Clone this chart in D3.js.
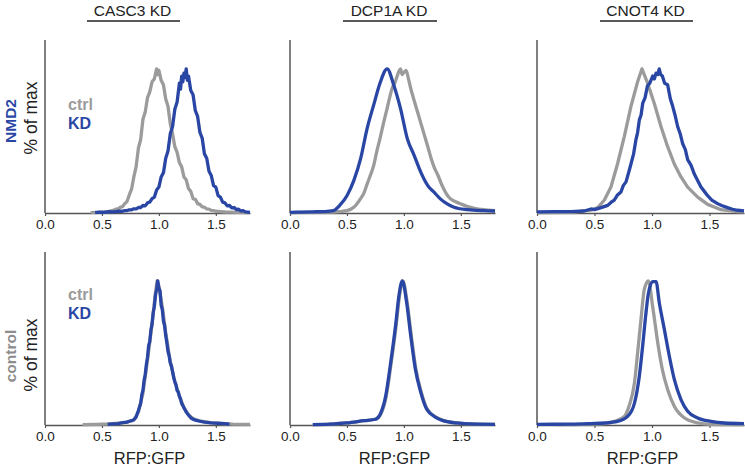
<!DOCTYPE html>
<html>
<head>
<meta charset="utf-8">
<script src="https://cdn.jsdelivr.net/npm/d3@7"></script>
<style>
  body { margin: 0; background: #fff; }
  svg { display: block; font-family: "Liberation Sans", Arial, sans-serif; }
</style>
</head>
<body>
<svg id="chart" width="745" height="467"></svg>
<script>
// knockdown columns and reporter rows
const columns = ["CASC3 KD", "DCP1A KD", "CNOT4 KD"];
const rows = ["NMD2", "control"];
const xTicks = [0.0, 0.5, 1.0, 1.5];
const legendLabels = ["ctrl", "KD"];

// histograms as [RFP:GFP, % of max]
const casc3Nmd2Ctrl = [[0.40,0.3],[0.44,0.4],[0.48,0.5],[0.52,0.8],[0.56,1.2],[0.60,1.8],[0.62,2.6],[0.64,2.8],[0.66,3.9],[0.68,4.4],[0.70,6.5],[0.72,8],[0.74,12.5],[0.76,16.5],[0.78,25],[0.80,32],[0.82,45],[0.84,51],[0.86,65],[0.88,70],[0.90,80],[0.92,84],[0.94,91],[0.96,93],[0.98,100],[0.99,96],[1.00,99],[1.02,92],[1.04,89],[1.06,79],[1.08,74],[1.10,62],[1.12,55],[1.14,46],[1.16,42],[1.18,35],[1.20,32],[1.22,25],[1.24,23],[1.26,17],[1.28,15],[1.30,10],[1.32,9.5],[1.34,6.5],[1.36,6],[1.38,4.2],[1.40,4],[1.42,2.8],[1.44,2.7],[1.46,1.8],[1.48,1.7],[1.50,1.2],[1.54,1],[1.58,0.7],[1.62,0.6],[1.70,0.4],[1.80,0.3]];
const casc3Nmd2Kd = [[0.44,0.3],[0.48,0.6],[0.52,0.5],[0.56,0.9],[0.60,0.8],[0.64,1.2],[0.68,1.2],[0.70,1.6],[0.72,1.7],[0.74,2.2],[0.76,2.2],[0.78,2.9],[0.80,2.8],[0.82,3.8],[0.84,3.8],[0.86,5.2],[0.88,5],[0.90,7],[0.92,7.6],[0.94,10],[0.96,11],[0.98,16],[1.00,18],[1.02,25],[1.04,28],[1.06,38],[1.08,43],[1.10,55],[1.12,60],[1.14,72],[1.16,77],[1.18,90],[1.19,86],[1.20,95],[1.21,91],[1.22,97],[1.23,94],[1.24,100],[1.25,92],[1.26,95],[1.28,85],[1.30,82],[1.32,71],[1.34,67],[1.36,56],[1.38,52],[1.40,41],[1.42,38],[1.44,29],[1.46,26],[1.48,19],[1.50,18],[1.52,12],[1.54,11],[1.56,7.5],[1.58,7],[1.60,5],[1.62,5.2],[1.64,3.6],[1.66,3.8],[1.68,2.4],[1.70,2.6],[1.72,1.4],[1.74,1.6],[1.76,0.8],[1.80,0.5]];
const dcp1aNmd2Ctrl = [[0.00,0.3],[0.20,0.5],[0.38,0.6],[0.44,1],[0.50,1.6],[0.56,4],[0.62,10],[0.65,14],[0.677,20],[0.70,25],[0.735,33],[0.76,42],[0.79,51.6],[0.82,62],[0.853,72.6],[0.875,80],[0.897,86.5],[0.92,90],[0.94,94.7],[0.97,100],[0.985,96],[0.995,97],[1.02,99],[1.04,93],[1.06,86.5],[1.09,78],[1.12,70],[1.15,62],[1.18,54],[1.21,46],[1.24,37.7],[1.27,31],[1.30,26],[1.33,20],[1.35,16.7],[1.38,12.5],[1.41,9.8],[1.45,8],[1.50,6.3],[1.56,4.5],[1.62,3.3],[1.70,2.3],[1.80,1.6]];
const dcp1aNmd2Kd = [[0.00,0.5],[0.10,0.6],[0.20,0.8],[0.30,1],[0.38,1.6],[0.44,5.6],[0.50,12],[0.56,22.5],[0.62,37.7],[0.677,58.6],[0.735,75],[0.79,90],[0.853,100],[0.91,89],[0.97,72.6],[1.03,51.6],[1.09,40],[1.15,28],[1.21,19],[1.265,14.4],[1.32,9.8],[1.38,6.3],[1.44,4],[1.56,2.3],[1.70,1.6],[1.80,1.4]];
const cnot4Nmd2Ctrl = [[0.00,0.3],[0.30,0.5],[0.47,2],[0.528,3.7],[0.586,9],[0.643,18],[0.70,34],[0.759,53],[0.817,74],[0.875,91],[0.913,100],[0.962,90],[1.02,76],[1.078,60],[1.136,46],[1.194,34],[1.252,25],[1.31,18],[1.397,11],[1.484,6],[1.60,2.3],[1.745,1],[1.80,0.8]];
const cnot4Nmd2Kd = [[0.00,0.8],[0.15,0.9],[0.296,1],[0.41,1.4],[0.47,2.8],[0.50,2.4],[0.557,3.7],[0.615,5.3],[0.645,7.5],[0.672,9],[0.70,12.5],[0.73,14.6],[0.75,19],[0.774,21.6],[0.80,29],[0.817,34],[0.84,41],[0.86,50.7],[0.875,56],[0.89,64.6],[0.905,68],[0.919,76],[0.94,80],[0.96,88],[0.98,90],[1.006,95],[1.02,93],[1.035,97],[1.05,96],[1.063,100],[1.075,96],[1.09,95],[1.11,90],[1.136,89],[1.16,79],[1.18,74],[1.20,68],[1.223,60],[1.245,55],[1.267,48],[1.29,44],[1.31,37],[1.34,33],[1.368,27],[1.40,22],[1.426,18],[1.455,15],[1.484,12],[1.52,9],[1.57,6.5],[1.61,5],[1.657,3.7],[1.70,2.6],[1.745,1.9],[1.80,1.5]];

const casc3CtrlCtrl = [[0.33,0.3],[0.45,0.5],[0.55,0.7],[0.65,1.2],[0.72,2],[0.78,3.5],[0.82,9],[0.86,22],[0.90,45],[0.94,70],[0.97,92],[0.985,100],[1.00,96],[1.03,82],[1.06,64],[1.10,44],[1.14,30],[1.18,20],[1.22,12],[1.26,7],[1.30,4.5],[1.36,2.8],[1.45,1.6],[1.55,1],[1.65,0.6],[1.80,0.4]];
const casc3CtrlKd = [[0.55,0.4],[0.60,0.8],[0.64,1],[0.68,1.6],[0.72,2],[0.74,2.6],[0.76,3],[0.78,3.6],[0.80,5.5],[0.82,10],[0.84,15],[0.85,21],[0.86,24],[0.87,31],[0.88,35],[0.89,42],[0.90,47],[0.91,55],[0.92,58],[0.93,66],[0.94,70],[0.95,78],[0.96,82],[0.97,90],[0.98,94],[0.99,100],[1.00,95],[1.01,93],[1.02,83],[1.03,80],[1.04,72],[1.05,69],[1.06,62],[1.07,57],[1.08,51],[1.09,48],[1.10,43],[1.11,41],[1.12,37],[1.13,33],[1.14,30],[1.15,28],[1.16,24],[1.17,23],[1.18,20],[1.19,18],[1.20,15],[1.22,12],[1.24,9],[1.26,7],[1.28,5],[1.30,4],[1.32,3.4],[1.36,2.6],[1.40,2],[1.46,1.5],[1.52,1.2],[1.58,0.9],[1.62,0.6]];
const dcp1aCtrlCtrl = [[0.20,0.3],[0.35,0.6],[0.50,1.4],[0.65,3],[0.75,4],[0.80,8],[0.845,20],[0.885,41],[0.932,69],[0.962,90],[0.991,100],[1.029,85],[1.065,62],[1.105,39],[1.152,23],[1.205,11],[1.285,5.3],[1.385,2.3],[1.535,1],[1.80,0.5]];
const dcp1aCtrlKd = [[0.20,0.3],[0.35,0.6],[0.50,1.4],[0.65,3],[0.75,4],[0.795,8],[0.84,20],[0.88,41],[0.927,69],[0.957,90],[0.986,100],[1.024,85],[1.06,62],[1.10,39],[1.147,23],[1.20,11],[1.28,5.3],[1.38,2.3],[1.53,1],[1.80,0.5]];
const cnot4CtrlCtrl = [[0.17,0.3],[0.40,0.5],[0.586,1],[0.67,2.5],[0.76,6],[0.80,13],[0.847,29],[0.875,50],[0.904,73],[0.933,94],[0.968,100],[1.006,82],[1.05,57],[1.09,38.5],[1.136,24.6],[1.194,13],[1.28,5],[1.397,1.5],[1.51,0.5],[1.80,0.3]];
const cnot4CtrlKd = [[0.00,0.5],[0.296,0.6],[0.47,1],[0.586,1.4],[0.70,2.5],[0.788,6],[0.847,15],[0.89,34],[0.919,55],[0.948,78],[0.968,91],[1.006,99.5],[1.035,99.5],[1.063,85],[1.107,66.5],[1.15,48],[1.194,31.6],[1.252,17.6],[1.31,9.5],[1.397,4.9],[1.513,2.5],[1.629,1.4],[1.80,1]];

const series = [
  [[casc3Nmd2Ctrl, casc3Nmd2Kd], [dcp1aNmd2Ctrl, dcp1aNmd2Kd], [cnot4Nmd2Ctrl, cnot4Nmd2Kd]],
  [[casc3CtrlCtrl, casc3CtrlKd], [dcp1aCtrlCtrl, dcp1aCtrlKd], [cnot4CtrlCtrl, cnot4CtrlKd]]
];
// smooth curves for the cleaner histograms
const smooth = [[false, true, false], [false, true, true]];

const gray = "#9b9b9b";
const blue = "#2a46a4";
const axisColor = "#555";

// panel geometry
const colX = [[45, 250], [290, 495], [537, 744]];
const rowY = [[40, 213], [252, 425]];
const titleX = [[87, 180], [343, 437], [600, 693]];

const svg = d3.select("#chart");

columns.forEach((t, i) => {
  const [a, b] = titleX[i];
  svg.append("text")
    .attr("x", (a + b) / 2 - 1).attr("y", 16)
    .attr("text-anchor", "middle")
    .attr("font-size", 15.5)
    .attr("fill", "#222")
    .text(t);
  svg.append("line")
    .attr("x1", a).attr("x2", b).attr("y1", 21).attr("y2", 21)
    .attr("stroke", "#222").attr("stroke-width", 1.6);
});

rows.forEach((r, ri) => {
  const [top, base] = rowY[ri];
  const y = d3.scaleLinear().domain([0, 120]).range([base, top]);
  const mid = ri === 0 ? 121 : 356;

  svg.append("text")
    .attr("transform", `translate(16,${mid}) rotate(-90)`)
    .attr("text-anchor", "middle")
    .attr("font-size", 15.5).attr("font-weight", "bold")
    .attr("fill", ri === 0 ? blue : "#8c8c8c")
    .text(r);
  svg.append("text")
    .attr("transform", `translate(37,${ri === 0 ? 118 : 355}) rotate(-90)`)
    .attr("text-anchor", "middle")
    .attr("font-size", 17.5)
    .attr("fill", "#222")
    .text("% of max");

  // legend
  legendLabels.forEach((l, li) => {
    svg.append("text")
      .attr("x", 68)
      .attr("y", (ri === 0 ? 110 : 300) + li * 18.5)
      .attr("font-size", 16).attr("font-weight", "bold")
      .attr("fill", li === 0 ? gray : blue)
      .text(l);
  });

  columns.forEach((c, ci) => {
    const x = d3.scaleLinear().domain([0, 1.8]).range(colX[ci]);
    const g = svg.append("g");

    const line = d3.line()
      .x(d => x(d[0]))
      .y(d => y(d[1]))
      .curve(smooth[ri][ci] ? d3.curveMonotoneX : d3.curveLinear);

    // axes
    g.append("g")
      .attr("transform", `translate(0,${base})`)
      .call(d3.axisBottom(x).tickValues(xTicks).tickFormat(d3.format(".1f")).tickSize(3).tickSizeOuter(0))
      .call(a => a.select(".domain").attr("stroke", axisColor).attr("stroke-width", 1.5))
      .call(a => a.selectAll(".tick line").attr("stroke", axisColor).attr("stroke-width", 1.2))
      .call(a => a.selectAll(".tick text").attr("font-size", 13.5).attr("font-family", "Liberation Sans, Arial, sans-serif").attr("fill", "#222").attr("y", 6).attr("dy", "0.71em"));
    g.append("line")
      .attr("x1", colX[ci][0]).attr("x2", colX[ci][0])
      .attr("y1", top).attr("y2", base)
      .attr("stroke", axisColor).attr("stroke-width", 1.5);

    const [ctrl, kd] = series[ri][ci];
    g.append("path").datum(ctrl)
      .attr("d", line).attr("fill", "none")
      .attr("stroke", gray).attr("stroke-width", 3.3)
      .attr("stroke-linejoin", "round");
    g.append("path").datum(kd)
      .attr("d", line).attr("fill", "none")
      .attr("stroke", blue).attr("stroke-width", 3.3)
      .attr("stroke-linejoin", "round");

    if (ri === 1) {
      svg.append("text")
        .attr("x", (colX[ci][0] + colX[ci][1]) / 2 + 2).attr("y", 464)
        .attr("text-anchor", "middle")
        .attr("font-size", 16.5)
        .attr("fill", "#222")
        .text("RFP:GFP");
    }
  });
});
</script>
</body>
</html>
